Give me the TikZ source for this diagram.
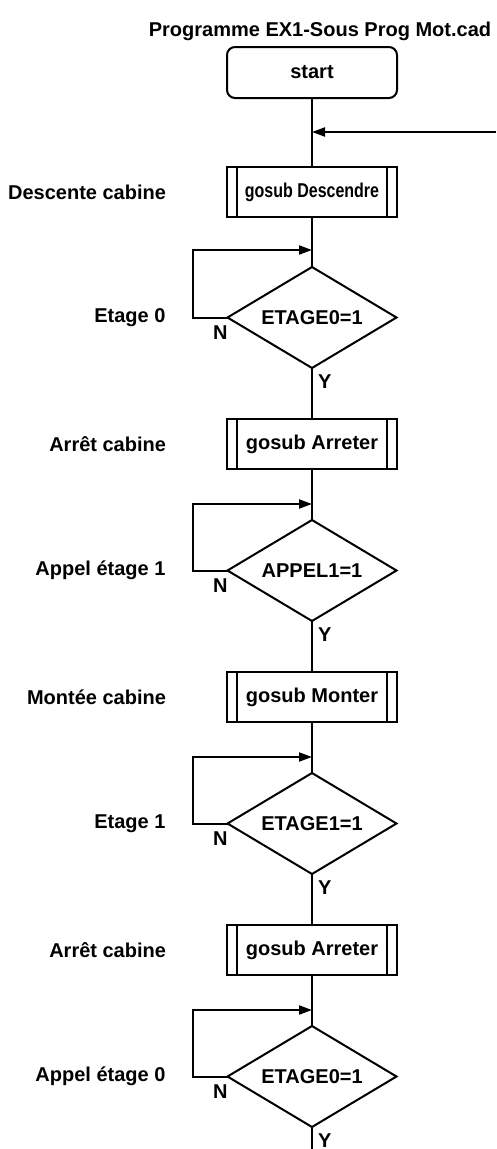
\documentclass[tikz,border=0pt]{standalone}
\usepackage{fontspec}
\setmainfont{Liberation Sans}
\usepackage{graphicx}
\usetikzlibrary{arrows.meta,positioning,shapes.geometric,calc}
\tikzset{
  startbox/.style={rounded corners=8pt, draw, line width=2pt, outer sep=0pt, minimum width=170pt, minimum height=51pt},
  subbox/.style={draw, line width=2pt, outer sep=0pt, minimum width=170pt, minimum height=50pt,
    path picture={
      \draw[line width=2pt] ([xshift=10pt]path picture bounding box.north west) -- ([xshift=10pt]path picture bounding box.south west);
      \draw[line width=2pt] ([xshift=-10pt]path picture bounding box.north east) -- ([xshift=-10pt]path picture bounding box.south east);
    }},
  testbox/.style={diamond, aspect=1.67, draw, line width=2pt, outer sep=0pt, inner sep=0pt, minimum width=169pt, minimum height=101pt},
  sidelabel/.style={inner sep=0pt, outer sep=0pt},
  flag/.style={inner sep=0pt, outer sep=0pt},
  line/.style={line width=2pt},
  arrow/.style={-{Triangle[length=13pt,width=9pt]}, line width=2pt}
}

\begin{document}
\begin{tikzpicture}[x=1pt, y=1pt, font=\fontsize{20}{24}\selectfont\bfseries]
  \useasboundingbox (0,0) rectangle (496,-1149);

  \node (title) at (320,-31) {Programme EX1-Sous Prog Mot.cad};

  \node[startbox] (S) at (312,-72.5) {start};
  \node[subbox, below=69pt of S] (B1) {\scalebox{0.8}[1]{gosub Descendre}};
  \node[testbox, below=50pt of B1] (D1) {ETAGE0=1};
  \node[subbox, below=51pt of D1] (B2) {gosub Arreter};
  \node[testbox, below=51pt of B2] (D2) {APPEL1=1};
  \node[subbox, below=51pt of D2] (B3) {gosub Monter};
  \node[testbox, below=51pt of B3] (D3) {ETAGE1=1};
  \node[subbox, below=51pt of D3] (B4) {gosub Arreter};
  \node[testbox, below=51pt of B4] (D4) {ETAGE0=1};

  % comments on the left
  \node[sidelabel, left=61pt of B1] (tB1) {Descente cabine};
  \node[sidelabel, left=62pt of D1] (tD1) {Etage 0};
  \node[sidelabel, left=61pt of B2] (tB2) {Arrêt cabine};
  \node[sidelabel, left=62pt of D2] (tD2) {Appel étage 1};
  \node[sidelabel, left=61pt of B3] (tB3) {Montée cabine};
  \node[sidelabel, left=62pt of D3] (tD3) {Etage 1};
  \node[sidelabel, left=61pt of B4] (tB4) {Arrêt cabine};
  \node[sidelabel, left=62pt of D4] (tD4) {Appel étage 0};

  % N / Y flags
  \node[flag, anchor=north east, yshift=-8pt] (N1) at (D1.west) {N};
  \node[flag, anchor=north east, yshift=-8pt] (N2) at (D2.west) {N};
  \node[flag, anchor=north east, yshift=-8pt] (N3) at (D3.west) {N};
  \node[flag, anchor=north east, yshift=-8pt] (N4) at (D4.west) {N};
  \node[flag, anchor=north west, xshift=6pt, yshift=-7pt] (Y1) at (D1.south) {Y};
  \node[flag, anchor=north west, xshift=6pt, yshift=-7pt] (Y2) at (D2.south) {Y};
  \node[flag, anchor=north west, xshift=6pt, yshift=-7pt] (Y3) at (D3.south) {Y};
  \node[flag, anchor=north west, xshift=6pt, yshift=-7pt] (Y4) at (D4.south) {Y};

  \coordinate (J0) at ([yshift=-34pt]S.south);
  \coordinate (in) at (496,-132);
  \coordinate (J1) at ([yshift=17pt]D1.north);
  \coordinate (J2) at ([yshift=16pt]D2.north);
  \coordinate (J3) at ([yshift=16pt]D3.north);
  \coordinate (J4) at ([yshift=16pt]D4.north);
  \coordinate (out) at ([yshift=-40pt]D4.south);

  \draw[line] (S) -- (B1);
  \draw[arrow] (in) -- (J0);
  \draw[line] (B1) -- (D1);
  \draw[line] (D1) -- (B2);
  \draw[line] (B2) -- (D2);
  \draw[line] (D2) -- (B3);
  \draw[line] (B3) -- (D3);
  \draw[line] (D3) -- (B4);
  \draw[line] (B4) -- (D4);
  \draw[line] (D4) -- (out);

  \draw[arrow] (D1.west) -- ++(-35pt,0) |- (J1);
  \draw[arrow] (D2.west) -- ++(-35pt,0) |- (J2);
  \draw[arrow] (D3.west) -- ++(-35pt,0) |- (J3);
  \draw[arrow] (D4.west) -- ++(-35pt,0) |- (J4);
\end{tikzpicture}
\end{document}
